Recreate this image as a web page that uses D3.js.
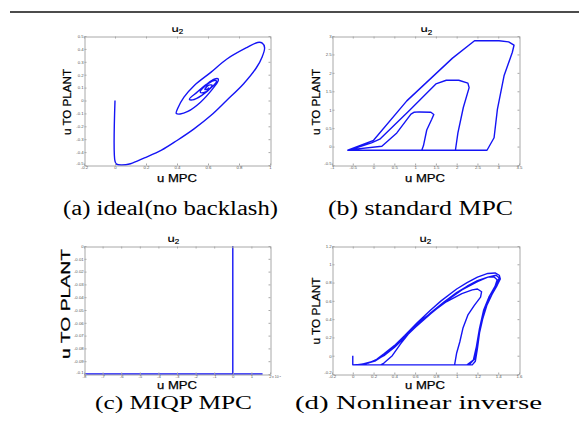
<!DOCTYPE html>
<html>
<head>
<meta charset="utf-8">
<script src="https://cdn.jsdelivr.net/npm/d3@7"></script>
<style>
  body { margin: 0; background: #fff; }
  svg { display: block; }
</style>
</head>
<body>
<svg id="fig" width="579" height="436"></svg>
<script>
// ---- data ----
const captions = ['(a) ideal(no backlash)', '(b) standard MPC', '(c) MIQP MPC', '(d) Nonlinear inverse']

// (a) ideal, no backlash: [u MPC, u TO PLANT]
const idealPath = [
  [0, 0], [0, -0.47], [0.01, -0.493], [0.04, -0.5], [0.1, -0.49], [0.19, -0.445], [0.3, -0.385],
  [0.4, -0.31], [0.51, -0.22], [0.62, -0.115], [0.72, 0], [0.83, 0.13], [0.91, 0.25], [0.95, 0.34],
  [0.965, 0.41], [0.95, 0.445], [0.92, 0.45], [0.85, 0.41], [0.72, 0.32], [0.62, 0.22], [0.51, 0.115],
  [0.445, 0.026], [0.405, -0.06], [0.395, -0.1], [0.42, -0.105], [0.47, -0.085], [0.55, -0.015], [0.63, 0.09],
  [0.665, 0.15], [0.665, 0.168], [0.64, 0.165], [0.59, 0.125], [0.53, 0.065], [0.48, 0.01], [0.5, 0.005],
  [0.56, 0.04], [0.63, 0.11], [0.655, 0.15], [0.64, 0.155], [0.58, 0.11], [0.55, 0.065], [0.57, 0.06],
  [0.615, 0.095], [0.625, 0.12], [0.6, 0.115], [0.58, 0.085], [0.6, 0.09], [0.605, 0.1]
]
const aXTicks = [-0.2, 0, 0.2, 0.4, 0.6, 0.8, 1]
const aYTicks = [-0.5, -0.4, -0.3, -0.2, -0.1, 0, 0.1, 0.2, 0.3, 0.4, 0.5]

// (b) standard MPC
const standardPath = [
  [-0.6, -0.09], [0.2, 0.01], [0.56, 0.37], [0.9, 0.88], [0.97, 0.93], [1.1, 0.94], [1.38, 0.93],
  [1.45, 0.87], [1.4, 0.74], [1.28, 0.45], [1.2, 0.02], [1.16, -0.1], [-0.6, -0.1],
  [-0.05, 0.1], [0.15, 0.2], [0.88, 1.0], [1.5, 1.7], [1.75, 1.8], [2.05, 1.8], [2.27, 1.72],
  [2.3, 1.6], [2.16, 1.06], [2.03, 0.37], [1.97, -0.1], [-0.62, -0.1],
  [0, 0.17], [0.8, 1.24], [1.9, 2.4], [2.43, 2.87], [3.02, 2.87], [3.25, 2.84], [3.38, 2.75],
  [3.34, 2.56], [3.14, 1.92], [2.98, 1.01], [2.9, 0.24], [2.73, -0.1], [-0.6, -0.1]
]
const bXTicks = [-1, -0.5, 0, 0.5, 1, 1.5, 2, 2.5, 3, 3.5]
const bYTicks = [-0.5, 0, 0.5, 1, 1.5, 2, 2.5, 3]

// (c) MIQP MPC, u MPC in units of 1e-3
const miqpPath = [[0, 0], [0, -0.1], [-8, -0.1], [1.6, -0.1]]
const cXTicks = [-8, -7, -6, -5, -4, -3, -2, -1, 0, 1, 2]
const cYTicks = [-0.1, -0.09, -0.08, -0.07, -0.06, -0.05, -0.04, -0.03, -0.02, -0.01, 0]

// (d) nonlinear inverse
const inversePath = [
  [0, 0], [0, -0.1],
  [0.07, -0.095], [0.15, -0.08], [0.23, -0.04], [0.3, 0.02], [0.4, 0.11], [0.5, 0.22], [0.62, 0.36],
  [0.75, 0.5], [0.85, 0.6], [1.0, 0.73], [1.1, 0.8], [1.2, 0.86], [1.3, 0.9], [1.37, 0.905],
  [1.41, 0.88], [1.42, 0.84], [1.39, 0.77], [1.34, 0.67], [1.29, 0.55], [1.25, 0.4], [1.22, 0.25],
  [1.2, 0.08], [1.18, -0.06], [1.15, -0.1], [0.03, -0.1],
  [0.1, -0.09], [0.2, -0.06], [0.3, 0.0], [0.4, 0.09], [0.5, 0.2], [0.62, 0.33], [0.75, 0.47],
  [0.88, 0.59], [1.0, 0.69], [1.1, 0.76], [1.2, 0.82], [1.3, 0.86], [1.36, 0.86], [1.39, 0.83],
  [1.37, 0.76], [1.31, 0.64], [1.26, 0.5], [1.22, 0.3], [1.19, 0.1], [1.16, -0.05], [1.12, -0.1],
  [0.27, -0.1],
  [0.3, -0.08], [0.38, 0.0], [0.46, 0.13], [0.55, 0.26], [0.65, 0.38], [0.78, 0.49], [0.9, 0.59],
  [1.05, 0.68], [1.15, 0.72], [1.2, 0.73], [1.24, 0.7], [1.23, 0.64], [1.17, 0.55], [1.11, 0.45],
  [1.06, 0.3], [1.03, 0.15], [1.0, 0.03], [0.98, -0.1], [0.05, -0.1],
  [0.12, -0.09], [0.22, -0.055], [0.32, 0.02], [0.45, 0.15], [0.6, 0.31], [0.75, 0.46], [0.9, 0.6],
  [1.05, 0.72], [1.2, 0.81], [1.3, 0.86], [1.38, 0.88], [1.41, 0.85], [1.38, 0.78], [1.32, 0.66],
  [1.27, 0.52], [1.23, 0.33], [1.2, 0.12], [1.17, -0.04], [1.1, -0.1]
]
const dXTicks = [-0.2, 0, 0.2, 0.4, 0.6, 0.8, 1, 1.2, 1.4, 1.6]
const dYTicks = [-0.2, 0, 0.2, 0.4, 0.6, 0.8, 1, 1.2]

// ---- layout ----
const svg = d3.select('#fig')
const blue = '#1414f5'
const fmt = d => String(+d.toFixed(3))
const sans = '"Liberation Sans", Arial, sans-serif'

svg.append('line')
  .attr('x1', 10).attr('x2', 579).attr('y1', 12).attr('y2', 12)
  .attr('stroke', '#111').attr('stroke-width', 1.4)

const panels = [
  { key: 'a', box: [84, 36, 270, 165], xDom: [-0.2, 1], yDom: [-0.5, 0.5], xTicks: aXTicks, yTicks: aYTicks,
    data: idealPath, curve: d3.curveCatmullRom.alpha(0.5), title: [171.5, 31.7, 27.3],
    xl: [177, 182, 11.6], yl: [67, 102, 66, 11.6], cap: [63, 215, 215, 20, captions[0]] },
  { key: 'b', box: [332, 36, 519, 165], xDom: [-1, 3.5], yDom: [-0.5, 3], xTicks: bXTicks, yTicks: bYTicks,
    data: standardPath, curve: d3.curveLinear, title: [420.5, 32, 27.3],
    xl: [425, 182, 11.6], yl: [316, 102, 66, 11.6], cap: [328, 215, 185, 20, captions[1]] },
  { key: 'c', box: [84, 246, 270, 374], xDom: [-8, 2], yDom: [-0.1, 0], xTicks: cXTicks, yTicks: cYTicks,
    data: miqpPath, curve: d3.curveLinear, title: [167.5, 241.7, 236.7],
    xl: [177, 389.2, 10.8], yl: [66, 304, 110, 13.5], cap: [95, 408.5, 157, 19, captions[2]] },
  { key: 'd', box: [332, 246, 519, 374], xDom: [-0.2, 1.6], yDom: [-0.2, 1.2], xTicks: dXTicks, yTicks: dYTicks,
    data: inversePath, curve: d3.curveLinear, title: [419.5, 241.7, 236.7],
    xl: [425, 389.2, 10.8], yl: [316, 311, 67, 11.6], cap: [295, 408.5, 247, 19, captions[3]] }
]

panels.forEach(p => {
  const [x0, y0, x1, y1] = p.box
  const x = d3.scaleLinear().domain(p.xDom).range([x0, x1])
  const y = d3.scaleLinear().domain(p.yDom).range([y1, y0])
  const g = svg.append('g')

  // curve
  g.append('clipPath').attr('id', 'clip-' + p.key)
    .append('rect').attr('x', x0).attr('y', y0 - 1).attr('width', x1 - x0 + 1).attr('height', y1 - y0 + 2)
  const line = d3.line().x(d => x(d[0])).y(d => y(d[1])).curve(p.curve)
  g.append('path')
    .datum(p.data)
    .attr('clip-path', `url(#clip-${p.key})`)
    .attr('d', line)
    .attr('fill', 'none')
    .attr('stroke', blue)
    .attr('stroke-width', 1.4)
    .attr('stroke-linejoin', 'round')

  // axes, matlab style box with inward ticks
  const axes = [
    [d3.axisBottom(x).tickValues(p.xTicks).tickFormat(fmt), `translate(0,${y1 + 0.5})`],
    [d3.axisTop(x).tickValues(p.xTicks).tickFormat(''), `translate(0,${y0 + 0.5})`],
    [d3.axisLeft(y).tickValues(p.yTicks).tickFormat(fmt), `translate(${x0 + 0.5},0)`],
    [d3.axisRight(y).tickValues(p.yTicks).tickFormat(''), `translate(${x1 + 0.5},0)`]
  ]
  axes.forEach(([ax, tr], i) => {
    const a = g.append('g')
      .attr('transform', tr)
      .call(ax.tickSizeInner(-2).tickSizeOuter(0).tickPadding(0.8))
    a.select('.domain').attr('stroke', '#a8a8a8')
    a.selectAll('.tick line').attr('stroke', '#a8a8a8')
    a.selectAll('.tick text').attr('fill', '#555').style('font', `4.3px ${sans}`)
    // lift the lowest y label a little so it clears the first x label in the corner
    if (i === 2) a.selectAll('.tick text').filter(d => d === p.yDom[0]).attr('dy', '-0.1em')
  })

  if (p.key === 'c') {
    g.append('text').attr('x', 272).attr('y', 378)
      .style('font', `3.5px ${sans}`).attr('fill', '#555')
      .text('x 10').append('tspan').attr('dy', -1.2).style('font-size', '2.5px').text('-3')
  }

  // title u_2, top cut off like the cropped original
  g.append('clipPath').attr('id', 'tclip-' + p.key)
    .append('rect').attr('x', x0).attr('y', p.title[2]).attr('width', x1 - x0).attr('height', 20)
  const t = g.append('text')
    .attr('clip-path', `url(#tclip-${p.key})`)
    .attr('x', p.title[0]).attr('y', p.title[1])
    .style('font', `13px ${sans}`)
    .attr('stroke', '#000').attr('stroke-width', 0.2)
    .text('u')
  t.append('tspan').attr('dy', 2.5).style('font-size', '8px').text('2')

  // axis labels
  g.append('text')
    .attr('x', p.xl[0] - 20).attr('y', p.xl[1])
    .attr('textLength', 40).attr('lengthAdjust', 'spacingAndGlyphs')
    .attr('stroke', '#000').attr('stroke-width', 0.25)
    .style('font', `${p.xl[2]}px ${sans}`)
    .text('u MPC')
  g.append('text')
    .attr('transform', `translate(${p.yl[0] + 4},${p.yl[1]}) rotate(-90)`)
    .attr('x', -p.yl[2] / 2)
    .attr('textLength', p.yl[2]).attr('lengthAdjust', 'spacingAndGlyphs')
    .attr('stroke', '#000').attr('stroke-width', 0.25)
    .style('font', `${p.yl[3]}px ${sans}`)
    .text('u TO PLANT')

  // caption
  g.append('text')
    .attr('x', p.cap[0]).attr('y', p.cap[1])
    .attr('textLength', p.cap[2]).attr('lengthAdjust', 'spacingAndGlyphs')
    .style('font', `${p.cap[3]}px "Liberation Serif", "Times New Roman", serif`)
    .text(p.cap[4])
})
</script>
</body>
</html>
